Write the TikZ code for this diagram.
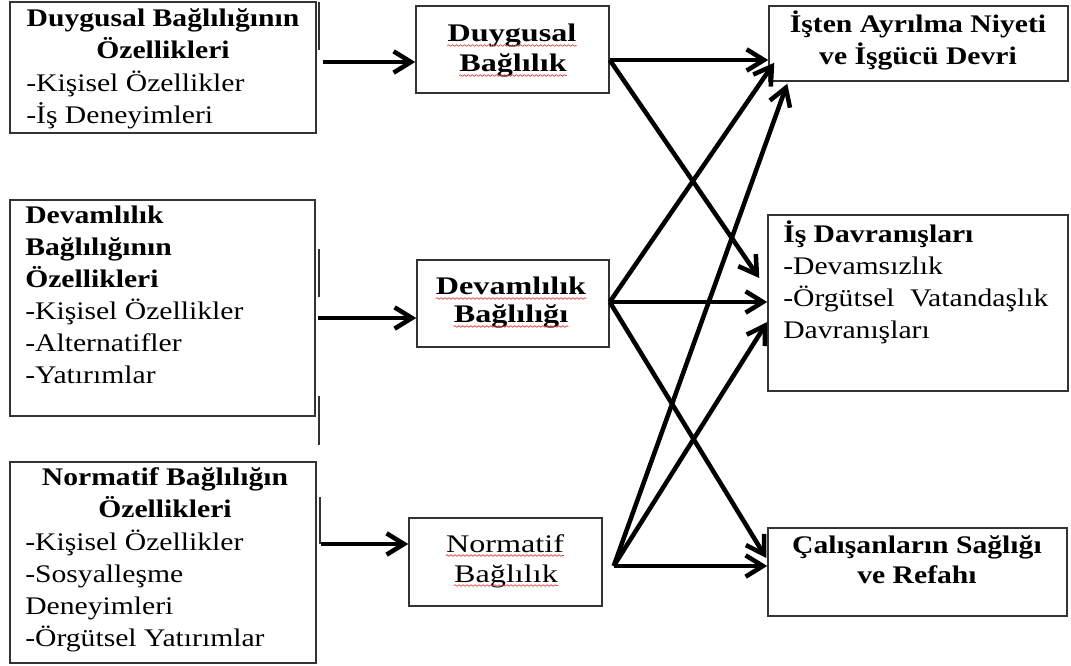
\documentclass[tikz,border=0pt]{standalone}
\usepackage{fontspec}
\setmainfont{Liberation Serif}[FakeStretch=1.17]
\newfontfamily\widefont{Liberation Serif}[FakeStretch=1.27]
\usetikzlibrary{arrows.meta,fit,decorations.pathmorphing}
\definecolor{boxgray}{HTML}{333333}
\definecolor{spellred}{HTML}{E03A3A}

\begin{document}
\begin{tikzpicture}[x=0.75pt,y=-0.75pt,
        >={Straight Barb[length=13pt,width=16pt]},
        box/.style={draw=boxgray,line width=1.1pt,inner sep=0pt},
        lbl/.style={inner sep=0pt,font=\fontsize{19}{24}\selectfont},
        title/.style={lbl,font=\fontsize{19}{24}\selectfont\bfseries,align=center,anchor=north},
        items/.style={lbl,align=left,anchor=north west},
        word/.style={inner sep=0pt,anchor=base,font=\fontsize{19}{22}\selectfont\widefont},
        conn/.style={->,line width=3.4pt},
        stray/.style={draw=boxgray,line width=1.2pt},
        spell/.style={draw=spellred,line width=0.5pt,decorate,
          decoration={snake,amplitude=0.6pt,segment length=3pt}}]
        \fill[white] (0,0) rectangle (1071,666);
        \useasboundingbox (0,0) rectangle (1071,666);

        % left column
        \node[box,fit={(10,2) (316,133)}] (dgo) {};
        \node[title] (dgoT) at (163,3.6) {\strut Duygusal Bağlılığının\\ Özellikleri};
        \node[items] (dgoL) at (26,68.6) {\strut -Kişisel Özellikler\\ -İş Deneyimleri};

        \node[box,fit={(10,200) (315,416)}] (dvo) {};
        \node[items] (dvoL) at (25,200.6) {\strut\textbf{Devamlılık}\\ \textbf{Bağlılığının}\\
          \textbf{Özellikleri}\\ -Kişisel Özellikler\\ -Alternatifler\\ -Yatırımlar};

        \node[box,fit={(10,462) (316,663)}] (nmo) {};
        \node[title] (nmoT) at (165,462.6) {\strut Normatif Bağlılığın\\ Özellikleri};
        \node[items] (nmoL) at (25,527.6) {\strut -Kişisel Özellikler\\ -Sosyalleşme\\
          Deneyimleri\\ -Örgütsel Yatırımlar};

        % middle column
        \node[box,fit={(416,6) (609,93)}] (dgb) {};
        \node[word,font=\fontsize{19}{22}\selectfont\widefont\bfseries] (dgb1) at (512,42) {Duygusal};
        \node[word,font=\fontsize{19}{22}\selectfont\widefont\bfseries] (dgb2) at (513,72) {Bağlılık};

        \node[box,fit={(417,260) (609,347)}] (dvb) {};
        \node[word,font=\fontsize{19}{22}\selectfont\widefont\bfseries] (dvb1) at (511,295) {Devamlılık};
        \node[word,font=\fontsize{19}{22}\selectfont\widefont\bfseries] (dvb2) at (511,323) {Bağlılığı};

        \node[box,fit={(409,518) (602,606)}] (nmb) {};
        \node[word] (nmb1) at (505,552) {Normatif};
        \node[word] (nmb2) at (506,582) {Bağlılık};

        \foreach \w in {dgb1,dgb2,dvb1,dvb2,nmb1,nmb2}
          \draw[spell] ([shift={(0,3.5)}]\w.base west) -- ([shift={(0,3.5)}]\w.base east);

        % right column
        \node[box,fit={(769,6) (1068,81)}] (ayr) {};
        \node[title,font=\fontsize{19}{23}\selectfont\bfseries] (ayrT) at (918,10.5)
          {\strut İşten Ayrılma Niyeti\\ ve İşgücü Devri};

        \node[box,fit={(768,215) (1068,391)}] (dvr) {};
        \node[items] (dvrL) at (783,219.6) {\strut\textbf{İş Davranışları}\\ -Devamsızlık\\
          -Örgütsel\hspace{6pt} Vatandaşlık\\ Davranışları};

        \node[box,fit={(768,528) (1067,616)}] (ref) {};
        \node[title,font=\fontsize{19}{23}\selectfont\bfseries] (refT) at (917,531.5)
          {\strut Çalışanların Sağlığı\\ ve Refahı};

        % stray bars next to the left boxes
        \draw[stray] (319,2) -- (319,50);
        \draw[stray] (319,249) -- (319,297);
        \draw[stray] (319,396) -- (319,445);
        \draw[stray] (320,497) -- (320,544);

        % connectors
        \path[conn]
        ([shift={(6,-5.5)}]dgo.east) edge ([shift={(0,12.5)}]dgb.west)
        ([shift={(2,10)}]dvo.east) edge ([shift={(0,14.5)}]dvb.west)
        ([shift={(4,-18.5)}]nmo.east) edge ([shift={(0,-18)}]nmb.west)
        ([shift={(0,10.5)}]dgb.east) edge ([shift={(0,16.5)}]ayr.west)
        ([shift={(0,10.5)}]dgb.east) edge ([shift={(-8,-25)}]dvr.west)
        ([shift={(0,-1.5)}]dvb.east) edge ([shift={(6,-19)}]ayr.south west)
        ([shift={(0,-1.5)}]dvb.east) edge ([shift={(0,-1)}]dvr.west)
        ([shift={(0,-1.5)}]dvb.east) edge ([shift={(-1,-14)}]ref.west)
        ([shift={(11,4)}]nmb.east) edge ([shift={(19,2)}]ayr.south west)
        ([shift={(11,4)}]nmb.east) edge ([shift={(0,19)}]dvr.west)
        ([shift={(11,4)}]nmb.east) edge ([shift={(0,-6)}]ref.west)
        ;
\end{tikzpicture}
\end{document}
